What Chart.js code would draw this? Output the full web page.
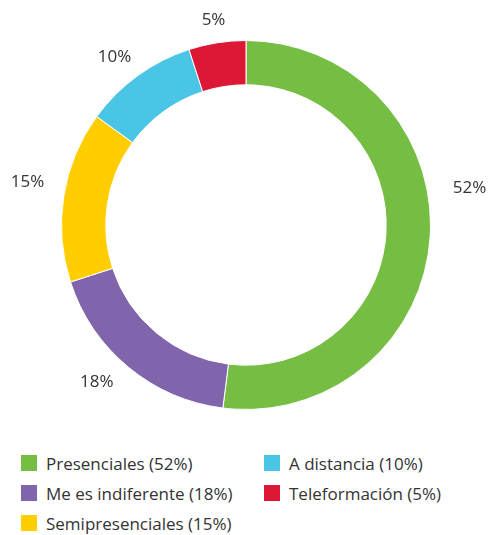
<!DOCTYPE html>
<html>
<head>
<meta charset="utf-8">
<script src="https://cdn.jsdelivr.net/npm/chart.js@4/dist/chart.umd.min.js"></script>
<style>
  body { margin: 0; background: #fff; font-family: "Open Sans", sans-serif; color: #333; }
  #wrap { position: relative; width: 488px; height: 535px; }
  #chart { position: absolute; left: 0; top: 0; }
  #legend {
    position: absolute; left: 21px; top: 448px;
    display: grid; grid-template-rows: repeat(3, 30px); grid-auto-flow: column;
    grid-template-columns: 243px auto;
    font-size: 17px;
  }
  .item { display: flex; align-items: center; }
  .box { width: 16px; height: 16px; margin-right: 9px; }
</style>
</head>
<body>
<div id="wrap">
  <canvas id="chart" width="488" height="440"></canvas>
  <div id="legend"></div>
</div>
<script>
const labels = ["Presenciales", "Me es indiferente", "Semipresenciales", "A distancia", "Teleformación"];
const values = [52, 18, 15, 10, 5];
const colors = ["#76bd43", "#8064ac", "#ffcd00", "#4bc5e5", "#dc1836"];

// outside percentage labels, with small angle nudges (degrees) so they sit clear of the ring
const labelNudge = [-13, 4, 2, -2, 0];
const labelRadius = [42, 32, 38, 29, 23];

const outsideLabels = {
  id: "outsideLabels",
  afterDatasetsDraw(chart) {
    const ctx = chart.ctx;
    const meta = chart.getDatasetMeta(0);
    ctx.save();
    ctx.font = "17px 'Open Sans', sans-serif";
    ctx.fillStyle = "#333";
    ctx.textAlign = "center";
    ctx.textBaseline = "middle";
    meta.data.forEach((arc, i) => {
      const p = arc.getProps(["x", "y", "startAngle", "endAngle", "outerRadius"], true);
      const a = (p.startAngle + p.endAngle) / 2 + labelNudge[i] * Math.PI / 180;
      const r = p.outerRadius + labelRadius[i];
      ctx.fillText(values[i] + "%", p.x + Math.cos(a) * r, p.y + Math.sin(a) * r);
    });
    ctx.restore();
  }
};

new Chart(document.getElementById("chart"), {
  type: "doughnut",
  data: {
    labels: labels,
    datasets: [{
      data: values,
      backgroundColor: colors,
      borderColor: "#fff",
      borderWidth: 1
    }]
  },
  options: {
    responsive: false,
    animation: false,
    cutout: "76%",
    layout: { padding: { left: 61, right: 57, top: 40, bottom: 30 } },
    plugins: {
      legend: { display: false },
      tooltip: { enabled: false }
    }
  },
  plugins: [outsideLabels]
});

// legend in column order, three rows
const legend = document.getElementById("legend");
labels.forEach((l, i) => {
  const item = document.createElement("div");
  item.className = "item";
  item.innerHTML = '<span class="box" style="background:' + colors[i] + '"></span>' + l + " (" + values[i] + "%)";
  legend.appendChild(item);
});
</script>
</body>
</html>
